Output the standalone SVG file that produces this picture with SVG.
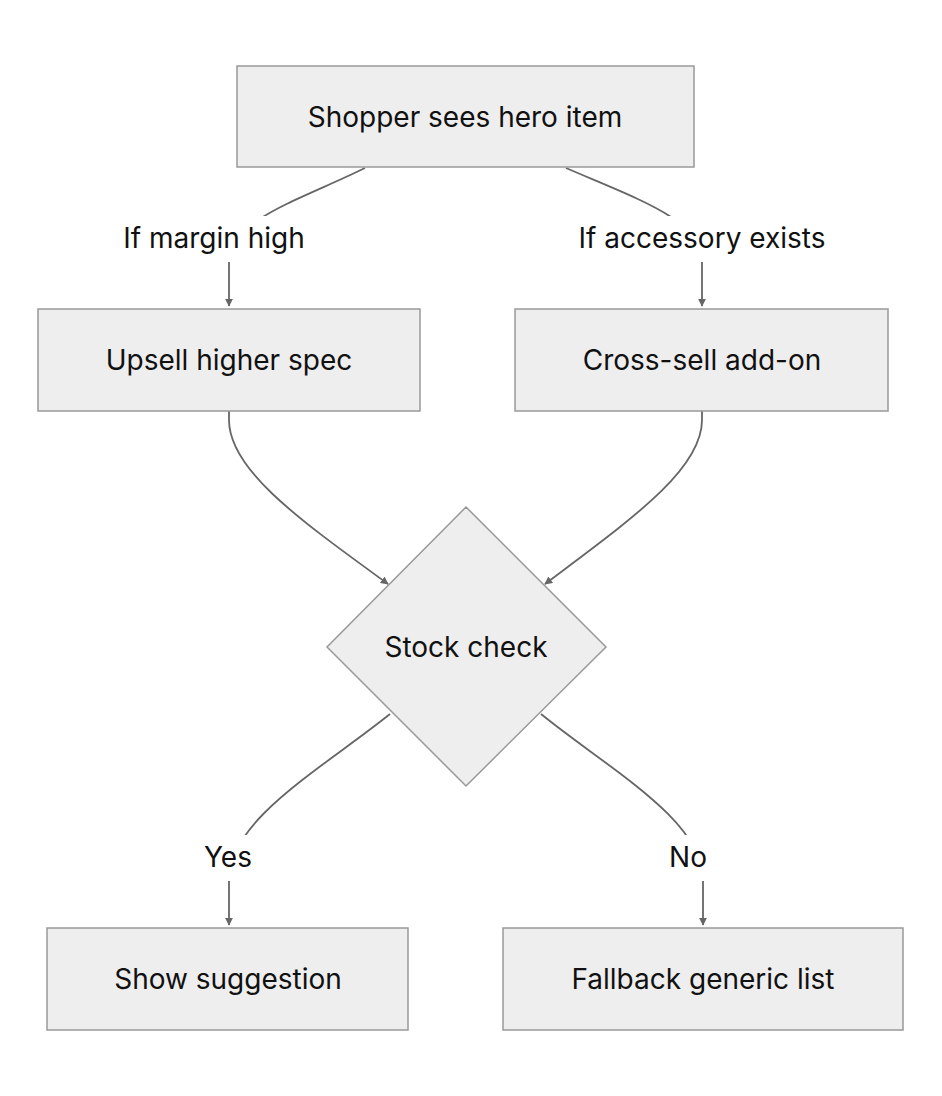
<svg xmlns="http://www.w3.org/2000/svg" width="942" height="1096" viewBox="0 0 942 1096">
<defs>
<style>
.n{fill:#eeeeee;stroke:#999999;stroke-width:1.5}
.t{font-family:Inter,"Liberation Sans",sans-serif;font-size:28px;fill:#111;text-anchor:middle;dominant-baseline:central}
.e{fill:none;stroke:#666666;stroke-width:1.8}
.lb{fill:#ffffff}
</style>
<marker id="a" viewBox="0 0 10 10" refX="9" refY="5" markerWidth="8" markerHeight="8" orient="auto-start-reverse" markerUnits="userSpaceOnUse"><path d="M0,0L10,5L0,10z" fill="#666666"/></marker>
</defs>
<rect width="942" height="1096" fill="#ffffff"/>
<g id="edges">
<path class="e" d="M365,168 C300,200 229,220 229,262 L229,306" marker-end="url(#a)"/>
<path class="e" d="M566,168 C640,200 702,220 702,262 L702,306" marker-end="url(#a)"/>
<path class="e" d="M229,411 L229,420 C229,470 300,520 388,584" marker-end="url(#a)"/>
<path class="e" d="M702,411 L702,420 C702,470 630,520 545,584" marker-end="url(#a)"/>
<path class="e" d="M390,714 C320,770 229,820 229,880 L229,925" marker-end="url(#a)"/>
<path class="e" d="M541,714 C610,770 703,820 703,880 L703,925" marker-end="url(#a)"/>
<rect class="lb" x="110" y="216" width="208" height="46"/>
<text class="t" x="214" y="238">If margin high</text>
<rect class="lb" x="563" y="216" width="278" height="46"/>
<text class="t" x="702" y="238">If accessory exists</text>
<rect class="lb" x="198" y="835" width="60" height="46"/>
<text class="t" x="228" y="857">Yes</text>
<rect class="lb" x="664" y="835" width="48" height="46"/>
<text class="t" x="688" y="857">No</text>
</g>
<g id="hero"><rect class="n" x="237" y="66" width="457" height="101"/><text class="t" x="465" y="117">Shopper sees hero item</text></g>
<g id="upsell"><rect class="n" x="38" y="309" width="382" height="102"/><text class="t" x="229" y="360">Upsell higher spec</text></g>
<g id="cross"><rect class="n" x="515" y="309" width="373" height="102"/><text class="t" x="702" y="360">Cross-sell add-on</text></g>
<g id="stock"><polygon class="n" points="466,507 606,647 466,786 327,647"/><text class="t" x="466" y="647">Stock check</text></g>
<g id="show"><rect class="n" x="47" y="928" width="361" height="102"/><text class="t" x="228" y="979">Show suggestion</text></g>
<g id="fallback"><rect class="n" x="503" y="928" width="400" height="102"/><text class="t" x="703" y="979">Fallback generic list</text></g>
</svg>
